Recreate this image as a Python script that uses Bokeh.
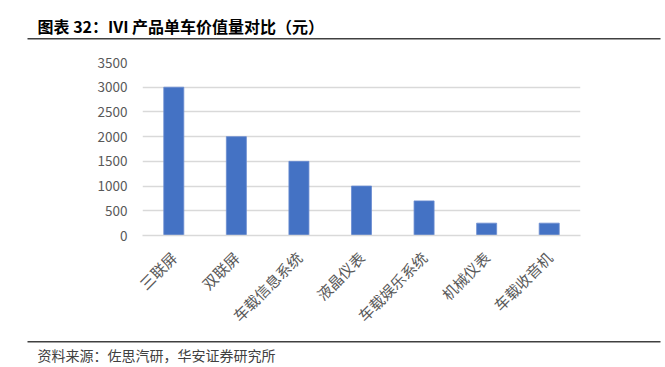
import math
from bokeh.plotting import figure
from bokeh.layouts import column
from bokeh.models import ColumnDataSource, FactorRange, Range1d, FixedTicker
from bokeh.core.properties import value
from bokeh.embed import file_html
from bokeh.resources import INLINE

# ---- data ----
categories = ["三联屏", "双联屏", "车载信息系统", "液晶仪表", "车载娱乐系统", "机械仪表", "车载收音机"]
values = [3000, 2000, 1500, 1000, 700, 250, 250]
y_ticks = [0, 500, 1000, 1500, 2000, 2500, 3000, 3500]
title_text = "图表 32：IVI 产品单车价值量对比（元）"
source_text = "资料来源：佐思汽研，华安证券研究所"

W = 665
CJK = "Noto Sans CJK SC"
TOP_H, MAIN_H, BOT_H = 41, 294, 32


def blank(h):
    f = figure(width=W, height=h, output_backend="svg", toolbar_location=None,
               x_range=Range1d(0, W), y_range=Range1d(h, 0),
               x_axis_location=None, y_axis_location=None,
               min_border=0, min_border_left=0, min_border_right=0,
               min_border_top=0, min_border_bottom=0)
    f.outline_line_color = None
    f.grid.grid_line_color = None
    f.background_fill_color = "white"
    f.border_fill_color = "white"
    f.frame_align = False
    return f


# ---- header ----
top = blank(TOP_H)
top.text(x=[37], y=[25], text=[title_text], text_font=value(CJK),
         text_font_style="bold", text_font_size="16px", text_color="#000000",
         text_baseline="middle", text_align="left")
top.segment(x0=[27], x1=[660], y0=[38.3], y1=[38.3], line_color="#404040", line_width=1.4)

# ---- main chart ----
p = figure(width=W, height=MAIN_H, output_backend="svg", toolbar_location=None,
           x_range=FactorRange(factors=categories, range_padding=0),
           y_range=Range1d(0, 3500),
           min_border_left=142, min_border_right=85,
           min_border_top=21, min_border_bottom=93)
p.frame_align = False
p.outline_line_color = None
p.background_fill_color = "white"
p.border_fill_color = "white"

src = ColumnDataSource(dict(cat=categories, val=values))
p.vbar(x="cat", top="val", width=0.32, source=src,
       fill_color="#4472C4", line_color="#6a8bd0", line_width=0.8)

p.xgrid.grid_line_color = None
p.ygrid.grid_line_color = "#d9d9d9"
p.ygrid.grid_line_width = 1.3
p.yaxis.ticker = FixedTicker(ticks=y_ticks)

p.yaxis.axis_line_color = None
p.yaxis.major_tick_line_color = None
p.yaxis.minor_tick_line_color = None
p.yaxis.major_label_text_color = "#595959"
p.yaxis.major_label_text_font = CJK
p.yaxis.major_label_text_font_size = "13.5px"
p.yaxis.major_label_standoff = 9

p.xaxis.axis_line_color = "#d9d9d9"
p.xaxis.axis_line_width = 1.3
p.xaxis.major_tick_line_color = None
p.xaxis.minor_tick_line_color = None
p.xaxis.major_label_orientation = math.pi / 4
p.xaxis.major_label_text_color = "#595959"
p.xaxis.major_label_text_font = CJK
p.xaxis.major_label_text_font_size = "15px"
p.xaxis.major_label_standoff = 13

# ---- footer ----
bot = blank(BOT_H)
bot.segment(x0=[27], x1=[660], y0=[6.3], y1=[6.3], line_color="#404040", line_width=1.4)
bot.text(x=[37], y=[19], text=[source_text], text_font=value(CJK),
         text_font_size="14px", text_color="#404040",
         text_baseline="middle", text_align="left")

layout = column(top, p, bot, spacing=0)
open("out.html", "w").write(file_html(layout, INLINE))
